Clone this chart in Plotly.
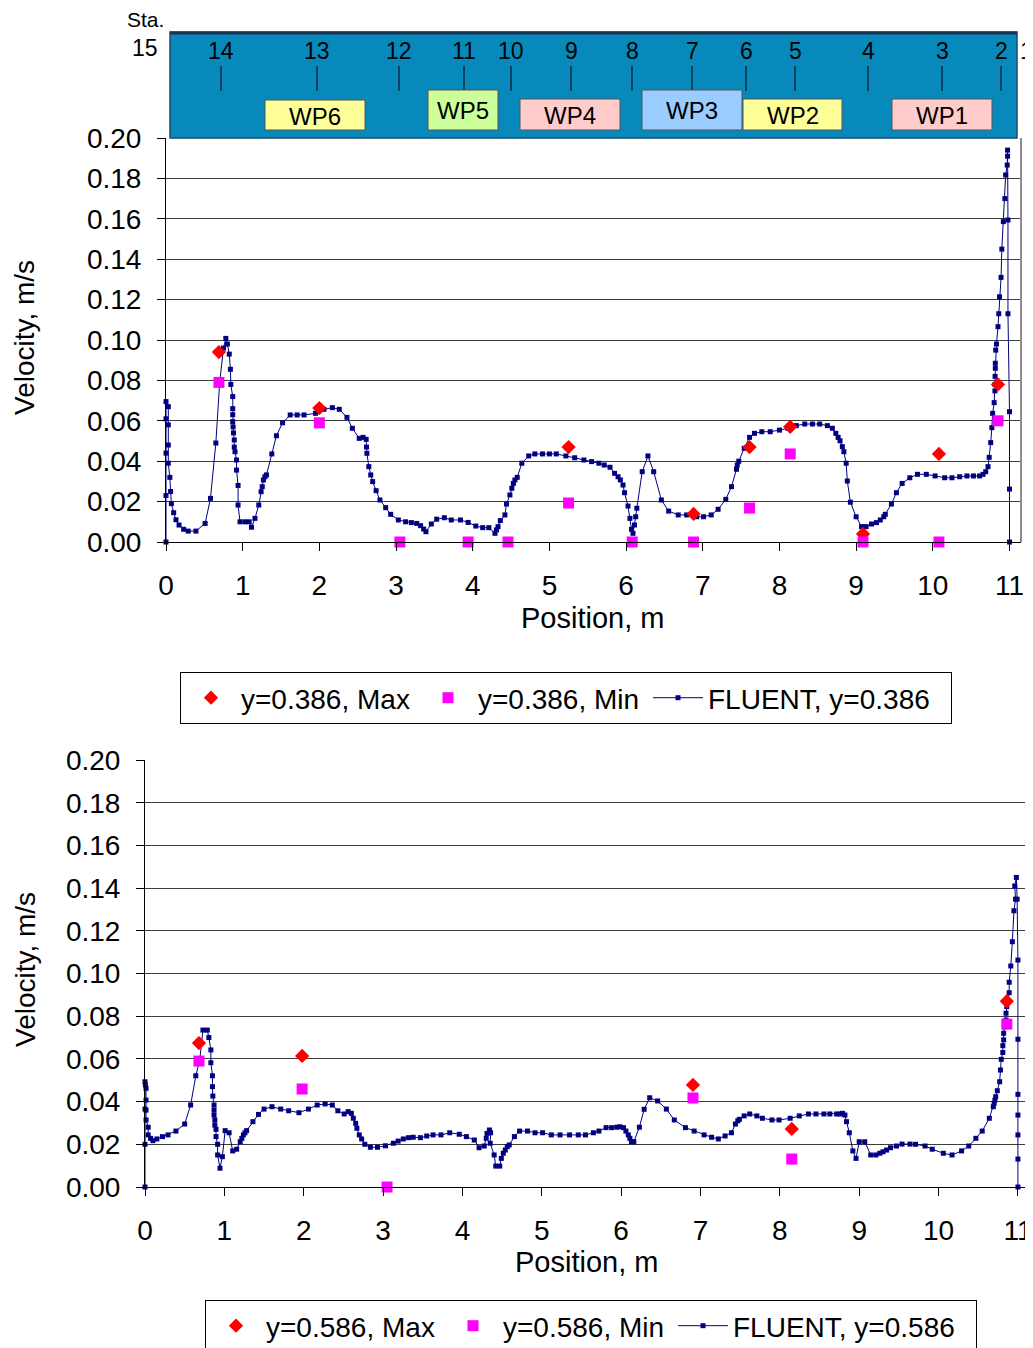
import plotly.graph_objects as go

W, H = 1033, 1348
OFF = 8  # the page body adds an 8 px margin around the figure
FW, FH = W - OFF, H - OFF
FONT = "Liberation Sans, Arial, sans-serif"

# ---------------- data: y = 0.386 (upper chart) ----------------
max1_x = [0.69, 2.00, 5.25, 6.88, 7.61, 8.14, 9.09, 10.08, 10.85]
max1_y = [0.094, 0.0663, 0.047, 0.0139, 0.047, 0.057, 0.004, 0.0436, 0.078]
min1_x = [0.69, 2.00, 3.05, 3.94, 4.46, 5.25, 6.08, 6.88, 7.61, 8.14, 9.09, 10.08, 10.85]
min1_y = [0.079, 0.059, 0.0, 0.0, 0.0, 0.0193, 0.0, 0.0, 0.0168, 0.0436, 0.0, 0.0, 0.060]

fl1_x = [0.00, 0.00, 0.00, 0.00, 0.00, 0.03, 0.03, 0.03, 0.03, 0.05, 0.06, 0.07, 0.10, 0.13,
         0.17, 0.23, 0.29, 0.39, 0.51, 0.58, 0.65, 0.70, 0.75, 0.78, 0.80, 0.825, 0.84, 0.845,
         0.87, 0.87, 0.87, 0.87, 0.875, 0.88, 0.89, 0.89, 0.90, 0.92, 0.92, 0.94, 0.94, 0.965,
         1.03, 1.085, 1.115, 1.16, 1.21, 1.24, 1.255, 1.27, 1.29, 1.31, 1.38, 1.44, 1.52, 1.62,
         1.71, 1.80, 1.95, 2.06, 2.17, 2.26, 2.36, 2.43, 2.52, 2.57, 2.61, 2.615, 2.62, 2.645,
         2.67, 2.695, 2.74, 2.79, 2.865, 2.93, 3.03, 3.125, 3.20, 3.27, 3.32, 3.36, 3.39, 3.46,
         3.53, 3.63, 3.72, 3.84, 3.94, 4.04, 4.13, 4.21, 4.29, 4.31, 4.33, 4.36, 4.42, 4.44,
         4.485, 4.51, 4.53, 4.55, 4.58, 4.64, 4.73, 4.81, 4.91, 5.00, 5.09, 5.215, 5.33, 5.45,
         5.55, 5.645, 5.715, 5.79, 5.85, 5.895, 5.925, 5.96, 5.98, 6.025, 6.05, 6.07, 6.09, 6.11,
         6.125, 6.14, 6.21, 6.285, 6.36, 6.46, 6.555, 6.68, 6.79, 6.92, 7.01, 7.11, 7.20, 7.30,
         7.375, 7.44, 7.45, 7.47, 7.54, 7.61, 7.675, 7.77, 7.88, 8.00, 8.11, 8.22, 8.33, 8.43,
         8.525, 8.625, 8.69, 8.735, 8.765, 8.79, 8.82, 8.84, 8.87, 8.885, 8.925, 9.00, 9.07, 9.13,
         9.20, 9.265, 9.315, 9.36, 9.38, 9.46, 9.525, 9.60, 9.70, 9.80, 9.915, 10.03, 10.155,
         10.25, 10.35, 10.445, 10.53, 10.61, 10.655, 10.69, 10.72, 10.735, 10.755, 10.77, 10.78,
         10.80, 10.81, 10.81, 10.812, 10.815, 10.815, 10.82, 10.83, 10.85, 10.86, 10.87, 10.89,
         10.90, 10.92, 10.94, 10.95, 10.97, 10.975, 10.975, 10.98, 10.98, 11.00, 11.00, 11.00]
fl1_y = [0.000, 0.023, 0.044, 0.061, 0.0695, 0.067, 0.058, 0.048, 0.039, 0.032, 0.025, 0.019,
         0.0145, 0.011, 0.0084, 0.0063, 0.0054, 0.0054, 0.0092, 0.0216, 0.049, 0.079, 0.096,
         0.1008, 0.098, 0.093, 0.0855, 0.078, 0.072, 0.066, 0.063, 0.0596, 0.057, 0.054, 0.0505,
         0.047, 0.0447, 0.0406, 0.0356, 0.028, 0.0183, 0.010, 0.010, 0.010, 0.0073, 0.0117,
         0.0183, 0.0249, 0.0274, 0.0307, 0.0323, 0.0332, 0.0436, 0.0526, 0.059, 0.0629, 0.0629,
         0.0629, 0.0637, 0.0657, 0.0665, 0.0657, 0.0617, 0.0563, 0.0513, 0.0518, 0.0508, 0.047,
         0.0439, 0.0373, 0.0332, 0.0299, 0.0254, 0.0208, 0.017, 0.0137, 0.0109, 0.010, 0.0096,
         0.0092, 0.0081, 0.0064, 0.0051, 0.0089, 0.0113, 0.012, 0.0109, 0.0109, 0.0097, 0.0079,
         0.0071, 0.0071, 0.0043, 0.006, 0.0076, 0.0106, 0.0134, 0.0188, 0.0233, 0.0266, 0.029,
         0.0307, 0.032, 0.039, 0.0426, 0.0436, 0.0436, 0.0436, 0.0436, 0.0426, 0.0417, 0.0406,
         0.0398, 0.039, 0.0381, 0.037, 0.034, 0.0323, 0.0307, 0.0282, 0.0244, 0.0178, 0.0117,
         0.0063, 0.0043, 0.0084, 0.0125, 0.0167, 0.0348, 0.0426, 0.0348, 0.0208, 0.0153, 0.0134,
         0.0134, 0.0125, 0.0125, 0.0134, 0.0162, 0.0211, 0.0274, 0.036, 0.0381, 0.040, 0.0464,
         0.0518, 0.0538, 0.0546, 0.0546, 0.0554, 0.0563, 0.0576, 0.0584, 0.0584, 0.0584, 0.0576,
         0.0563, 0.0538, 0.0518, 0.0501, 0.0472, 0.0447, 0.039, 0.0302, 0.0197, 0.0125, 0.0076,
         0.0076, 0.0089, 0.0096, 0.0109, 0.0125, 0.0137, 0.0188, 0.0244, 0.029, 0.0318, 0.0335,
         0.0335, 0.0327, 0.0318, 0.0318, 0.0323, 0.0327, 0.0327, 0.0327, 0.0335, 0.0348, 0.0373,
         0.0419, 0.0492, 0.0566, 0.0637, 0.069, 0.0748, 0.078, 0.082, 0.086, 0.0885, 0.095,
         0.098, 0.1066, 0.113, 0.1214, 0.131, 0.145, 0.1586, 0.170, 0.1817, 0.1866, 0.191, 0.194,
         0.1594, 0.113, 0.0645, 0.0262, 0.0]

# ---------------- data: y = 0.586 (lower chart) ----------------
max2_x = [0.68, 1.98, 6.905, 8.15, 10.86]
max2_y = [0.0674, 0.0614, 0.0478, 0.0272, 0.087]
min2_x = [0.68, 1.98, 3.05, 6.905, 8.15, 10.86]
min2_y = [0.059, 0.0459, 0.0, 0.0417, 0.0131, 0.0763]

fl2_x = [0.0, 0.0, 0.0, 0.0, 0.005, 0.013, 0.013, 0.013, 0.013, 0.04, 0.04, 0.07, 0.10, 0.15,
         0.22, 0.29, 0.39, 0.50, 0.575, 0.64, 0.69, 0.73, 0.785, 0.805, 0.83, 0.83, 0.85, 0.85,
         0.855, 0.87, 0.87, 0.87, 0.88, 0.88, 0.895, 0.895, 0.915, 0.915, 0.945, 0.975, 1.01,
         1.06, 1.105, 1.155, 1.20, 1.22, 1.24, 1.26, 1.28, 1.36, 1.43, 1.50, 1.60, 1.71, 1.81,
         1.94, 2.06, 2.17, 2.27, 2.36, 2.43, 2.51, 2.56, 2.60, 2.625, 2.655, 2.67, 2.70, 2.73,
         2.77, 2.84, 2.93, 3.03, 3.13, 3.19, 3.255, 3.32, 3.38, 3.47, 3.55, 3.63, 3.73, 3.84,
         3.96, 4.05, 4.15, 4.21, 4.275, 4.30, 4.31, 4.34, 4.355, 4.35, 4.40, 4.42, 4.47, 4.49,
         4.515, 4.54, 4.565, 4.59, 4.655, 4.72, 4.82, 4.915, 5.01, 5.12, 5.23, 5.35, 5.46, 5.55,
         5.65, 5.72, 5.81, 5.88, 5.945, 5.985, 6.03, 6.06, 6.09, 6.11, 6.13, 6.16, 6.23, 6.29,
         6.36, 6.46, 6.57, 6.67, 6.81, 6.92, 7.045, 7.14, 7.225, 7.31, 7.39, 7.44, 7.47, 7.49,
         7.55, 7.62, 7.71, 7.78, 7.90, 7.99, 8.13, 8.245, 8.36, 8.455, 8.555, 8.63, 8.715, 8.76,
         8.79, 8.82, 8.84, 8.875, 8.92, 8.96, 9.00, 9.07, 9.145, 9.21, 9.26, 9.30, 9.345, 9.395,
         9.47, 9.54, 9.64, 9.71, 9.83, 9.92, 10.06, 10.17, 10.29, 10.38, 10.47, 10.55, 10.64,
         10.69, 10.70, 10.71, 10.72, 10.74, 10.77, 10.78, 10.79, 10.81, 10.81, 10.82, 10.82,
         10.83, 10.85, 10.85, 10.86, 10.87, 10.89, 10.89, 10.91, 10.93, 10.95, 10.97, 10.96,
         10.98, 10.99, 11.00, 11.00, 11.00, 11.00, 11.00, 11.00, 11.00]
fl2_y = [0.0, 0.020, 0.0365, 0.0493, 0.0478, 0.0462, 0.0407, 0.036, 0.0314, 0.028, 0.0244,
         0.0228, 0.0217, 0.0225, 0.0236, 0.0244, 0.0262, 0.0295, 0.0384, 0.0521, 0.0595, 0.0735,
         0.0735, 0.070, 0.0642, 0.0582, 0.0521, 0.047, 0.0426, 0.0384, 0.036, 0.0337, 0.0314,
         0.029, 0.027, 0.0236, 0.020, 0.015, 0.0088, 0.0142, 0.0264, 0.0254, 0.0169, 0.0177,
         0.0212, 0.0228, 0.0244, 0.0254, 0.0264, 0.0306, 0.034, 0.0365, 0.0376, 0.0365, 0.0357,
         0.0348, 0.0365, 0.0384, 0.0389, 0.0384, 0.0357, 0.0342, 0.0353, 0.0345, 0.0322, 0.0298,
         0.0275, 0.0244, 0.0225, 0.020, 0.0186, 0.0186, 0.0193, 0.0205, 0.0215, 0.0225, 0.0231,
         0.0233, 0.0231, 0.0239, 0.0244, 0.0244, 0.0254, 0.0247, 0.0236, 0.022, 0.0184, 0.0192,
         0.0228, 0.0251, 0.0267, 0.0254, 0.0205, 0.015, 0.0098, 0.0098, 0.0134, 0.0158, 0.0173,
         0.0189, 0.0197, 0.0236, 0.0262, 0.0262, 0.0254, 0.0254, 0.0244, 0.0244, 0.0244, 0.0244,
         0.0244, 0.0254, 0.0262, 0.0278, 0.0278, 0.028, 0.0282, 0.0278, 0.0262, 0.0244, 0.0228,
         0.0212, 0.0212, 0.028, 0.0364, 0.0418, 0.0403, 0.0365, 0.0314, 0.0278, 0.0262, 0.0244,
         0.0233, 0.0225, 0.0239, 0.0254, 0.0295, 0.031, 0.0317, 0.0333, 0.0342, 0.0333, 0.0322,
         0.0314, 0.0314, 0.0322, 0.0333, 0.0342, 0.0342, 0.0342, 0.0342, 0.0342, 0.0342, 0.0345,
         0.0337, 0.0306, 0.0254, 0.0169, 0.0134, 0.0212, 0.0212, 0.015, 0.015, 0.0158, 0.0165,
         0.0173, 0.0184, 0.0192, 0.0201, 0.0201, 0.020, 0.0192, 0.0177, 0.0158, 0.015, 0.0169,
         0.0192, 0.0228, 0.0262, 0.0322, 0.0376, 0.0392, 0.0407, 0.0423, 0.0451, 0.0493, 0.0548,
         0.0598, 0.063, 0.0662, 0.0689, 0.072, 0.075, 0.0782, 0.0814, 0.0845, 0.0868, 0.091,
         0.0959, 0.1035, 0.1149, 0.1294, 0.1348, 0.141, 0.145, 0.1348, 0.1063, 0.0692, 0.0434,
         0.0337, 0.0244, 0.0131, 0.0]

y_ticks = [0.00, 0.02, 0.04, 0.06, 0.08, 0.10, 0.12, 0.14, 0.16, 0.18, 0.20]
x_ticks = list(range(12))

# banner content (station numbers and wave-probe names)
stations = ["15", "14", "13", "12", "11", "10", "9", "8", "7", "6", "5", "4", "3", "2", "1"]
probes = ["WP6", "WP5", "WP4", "WP3", "WP2", "WP1"]

# banner geometry in pixels
sta_px = [145, 221, 317, 399, 464, 511, 571, 632, 692, 746, 795, 868, 942, 1001, 1026]
probe_box = [(265, 365, 100), (428, 498, 90), (520, 620, 99), (642, 742, 90), (743, 842, 99),
             (892, 992, 99)]
probe_col = ["#FFFF99", "#CCFF99", "#FFCCCC", "#99CCFF", "#FFFF99", "#FFCCCC"]


def px(x):
    return (x - OFF) / FW


def py(y):
    return 1 - (y - OFF) / FH


NAVY = "#000080"
fig = go.Figure()

for (fx, fy, mx, my, nx, ny, tag, xa, ya, lg) in [
        (fl1_x, fl1_y, max1_x, max1_y, min1_x, min1_y, "0.386", "x", "y", "legend"),
        (fl2_x, fl2_y, max2_x, max2_y, min2_x, min2_y, "0.586", "x2", "y2", "legend2")]:
    fig.add_trace(go.Scatter(x=fx, y=fy, mode="lines+markers", name=f"FLUENT, y={tag}",
                             line=dict(color=NAVY, width=1),
                             marker=dict(symbol="square", size=5, color=NAVY),
                             xaxis=xa, yaxis=ya, legend=lg, legendrank=3, legendwidth=238,
                             cliponaxis=False))
    fig.add_trace(go.Scatter(x=mx, y=my, mode="markers", name=f"y={tag}, Max",
                             marker=dict(symbol="diamond", size=11, color="#FF0000"),
                             xaxis=xa, yaxis=ya, legend=lg, legendrank=1, legendwidth=172,
                             cliponaxis=False))
    fig.add_trace(go.Scatter(x=nx, y=ny, mode="markers", name=f"y={tag}, Min",
                             marker=dict(symbol="square", size=11, color="#FF00FF"),
                             xaxis=xa, yaxis=ya, legend=lg, legendrank=2, legendwidth=165,
                             cliponaxis=False))

xcommon = dict(tickvals=x_ticks, showgrid=False, zeroline=False, showline=True,
               linecolor="black", linewidth=1, ticks="outside", ticklen=8, tickcolor="black",
               ticklabelstandoff=10, tickfont=dict(size=28, color="black"))
ycommon = dict(tickvals=y_ticks, tickformat=".2f", range=[0, 0.2], showgrid=True,
               gridcolor="#3c3c3c", gridwidth=1, zeroline=False, showline=True,
               linecolor="black", linewidth=1, ticks="outside", ticklen=8, tickcolor="black",
               ticklabelstandoff=10, tickfont=dict(size=28, color="black"))

legcommon = dict(orientation="h", xanchor="left", yanchor="top", bgcolor="white",
                 bordercolor="black", borderwidth=1, font=dict(size=28, color="black"),
                 traceorder="normal", itemwidth=50)

fig.update_layout(
    width=FW, height=FH, margin=dict(l=0, r=0, t=0, b=0, autoexpand=False),
    paper_bgcolor="white", plot_bgcolor="white",
    font=dict(family=FONT, color="black"),
    xaxis=dict(domain=[px(166), px(1021)], range=[0, 11.15], anchor="y", **xcommon),
    yaxis=dict(domain=[py(542), py(138)], anchor="x", **ycommon),
    xaxis2=dict(domain=[px(145), 1.0], range=[0, 11.19], anchor="y2", **xcommon),
    yaxis2=dict(domain=[py(1187), py(760)], anchor="x2", **ycommon),
    legend=dict(x=px(180), y=py(672), **legcommon),
    legend2=dict(x=px(205), y=py(1300), **legcommon),
)

shapes = [
    # right border of upper plot area
    dict(type="line", xref="paper", yref="paper", x0=px(1021), x1=px(1021), y0=py(542),
         y1=py(138), line=dict(color="#8c8c8c", width=2)),
    # banner
    dict(type="rect", xref="paper", yref="paper", x0=px(170), x1=px(1017), y0=py(138),
         y1=py(32), fillcolor="#0789BC", line=dict(color="#1B4A6E", width=1.5)),
    dict(type="line", xref="paper", yref="paper", x0=px(170), x1=px(1017), y0=py(33),
         y1=py(33), line=dict(color="#1B3550", width=3)),
]
for s, xp in zip(stations, sta_px):
    if 170 < xp < 1017:
        shapes.append(dict(type="line", xref="paper", yref="paper", x0=px(xp), x1=px(xp),
                           y0=py(91), y1=py(66), line=dict(color="black", width=1)))
for (x0, x1, top), col in zip(probe_box, probe_col):
    shapes.append(dict(type="rect", xref="paper", yref="paper", x0=px(x0), x1=px(x1),
                       y0=py(130), y1=py(top), fillcolor=col,
                       line=dict(color="#555555", width=1)))

ann = []
for s, xp in zip(stations, sta_px):
    ann.append(dict(text=s, xref="paper", yref="paper", x=px(xp), y=py(48 if s == "15" else 51),
                    showarrow=False, font=dict(size=23), xanchor="center", yanchor="middle"))
ann.append(dict(text="Sta.", xref="paper", yref="paper", x=px(145), y=py(20), showarrow=False,
                font=dict(size=21), xanchor="center", yanchor="middle"))
for p, (x0, x1, top) in zip(probes, probe_box):
    ann.append(dict(text=p, xref="paper", yref="paper", x=px((x0 + x1) / 2),
                    y=py((top + 130) / 2 + 1), showarrow=False, font=dict(size=24),
                    xanchor="center", yanchor="middle"))
# axis titles
for ycen in (338, 970):
    ann.append(dict(text="Velocity, m/s", xref="paper", yref="paper", x=px(25), y=py(ycen),
                    textangle=-90, showarrow=False, font=dict(size=28),
                    xanchor="center", yanchor="middle"))
for xcen, ycen in ((592, 618), (586, 1262)):
    ann.append(dict(text="Position, m", xref="paper", yref="paper", x=px(xcen), y=py(ycen),
                    showarrow=False, font=dict(size=29), xanchor="center", yanchor="middle"))

fig.update_layout(shapes=shapes, annotations=ann)

fig.write_html("out.html")
